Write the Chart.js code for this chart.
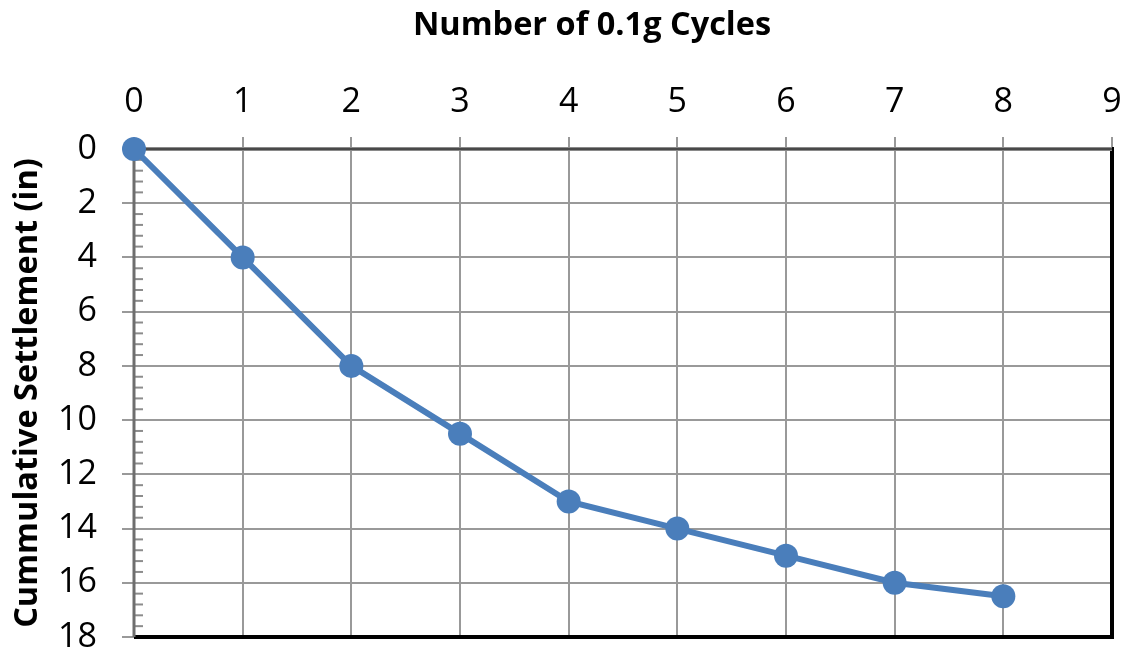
<!DOCTYPE html>
<html>
<head>
<meta charset="utf-8">
<script src="https://cdn.jsdelivr.net/npm/chart.js@4.4.0/dist/chart.umd.min.js"></script>
<style>
  html, body { margin: 0; padding: 0; background: #fff; }
  #wrap { width: 1125px; height: 652px; }
</style>
</head>
<body>
<div id="wrap"><canvas id="c" width="1125" height="652"></canvas></div>
<script>
const cycles = [0, 1, 2, 3, 4, 5, 6, 7, 8];
const settlement = [0, 4, 8, 10.5, 13, 14, 15, 16, 16.5];
const xTitle = 'Number of 0.1g Cycles';
const yTitle = 'Cummulative Settlement (in)';
const xMin = 0, xMax = 9, xStep = 1;
const yMin = 0, yMax = 18, yStep = 2, yMinorStep = 0.4;

const FONT = '"Open Sans", "Liberation Sans", sans-serif';
const TITLE_FONT = 'bold 32.5px ' + FONT;

const framePlugin = {
  id: 'frame',
  beforeDatasetsDraw(chart) {
    const ctx = chart.ctx;
    const a = chart.chartArea;
    const ys = chart.scales.y;
    ctx.save();
    ctx.strokeStyle = '#8c8c8c';
    ctx.lineWidth = 2;
    for (let v = yMin; v <= yMax + 1e-9; v += yMinorStep) {
      const r = Math.round(v * 10) / 10;
      if (Math.abs(r / yStep - Math.round(r / yStep)) < 1e-6) continue;
      const py = ys.getPixelForValue(r);
      ctx.beginPath();
      ctx.moveTo(a.left, py);
      ctx.lineTo(a.left + 9, py);
      ctx.stroke();
    }
    ctx.strokeStyle = '#000';
    ctx.lineWidth = 4;
    ctx.beginPath();
    ctx.moveTo(a.left, a.bottom);
    ctx.lineTo(a.right, a.bottom);
    ctx.lineTo(a.right, a.top - 2);
    ctx.stroke();
    ctx.strokeStyle = '#8a8a8a';
    ctx.lineWidth = 4;
    ctx.beginPath();
    ctx.moveTo(a.left, a.top);
    ctx.lineTo(a.right, a.top);
    ctx.stroke();
    ctx.strokeStyle = '#333';
    ctx.lineWidth = 1.5;
    ctx.beginPath();
    ctx.moveTo(a.left, a.top);
    ctx.lineTo(a.right, a.top);
    ctx.stroke();
    ctx.strokeStyle = '#6e6e6e';
    ctx.lineWidth = 3;
    ctx.beginPath();
    ctx.moveTo(a.left, a.top);
    ctx.lineTo(a.left, a.bottom);
    ctx.stroke();
    ctx.restore();
  },
  afterDraw(chart) {
    const ctx = chart.ctx;
    const a = chart.chartArea;
    ctx.save();
    ctx.font = TITLE_FONT;
    ctx.fillStyle = '#000';
    ctx.textAlign = 'center';
    ctx.textBaseline = 'alphabetic';
    // x-axis title sits slightly left of plot centre, as in the reference
    ctx.fillText(xTitle, (a.left + a.right) / 2 - 31, 35);
    ctx.restore();
  }
};

new Chart(document.getElementById('c'), {
  type: 'scatter',
  data: {
    datasets: [{
      data: cycles.map((x, i) => ({ x: x, y: settlement[i] })),
      showLine: true,
      clip: false,
      borderColor: '#4A7EBB',
      backgroundColor: '#4A7EBB',
      borderWidth: 6,
      pointRadius: 12,
      pointHoverRadius: 12,
      pointBorderWidth: 0,
      tension: 0
    }]
  },
  options: {
    responsive: false,
    animation: false,
    layout: { padding: 0 },
    plugins: { legend: { display: false }, tooltip: { enabled: false } },
    scales: {
      x: {
        type: 'linear',
        position: 'top',
        min: xMin, max: xMax,
        ticks: { stepSize: xStep, color: '#000', font: { family: FONT, size: 34 }, padding: 14 },
        grid: { color: '#999', lineWidth: 2, tickLength: 12, tickColor: '#999' },
        border: { display: false },
        title: { display: false },
        afterFit(scale) {
          scale.height = 149;
          scale.paddingLeft = 0;
          scale.paddingRight = 13;
        }
      },
      y: {
        type: 'linear',
        reverse: true,
        min: yMin, max: yMax,
        ticks: { stepSize: yStep, color: '#000', font: { family: FONT, size: 34 }, padding: 25 },
        grid: { color: '#999', lineWidth: 2, tickLength: 12, tickColor: '#999' },
        border: { display: false },
        title: { display: true, text: yTitle, color: '#000', font: { family: FONT, size: 32.5, weight: 'bold' }, padding: { top: 8, bottom: 8 } },
        afterFit(scale) {
          scale.width = 134;
          scale.paddingTop = 0;
          scale.paddingBottom = 15;
        }
      }
    }
  },
  plugins: [framePlugin]
});
</script>
</body>
</html>
